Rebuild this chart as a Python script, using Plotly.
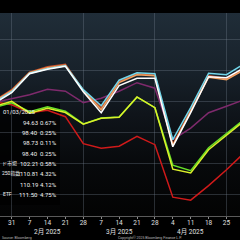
import base64
import plotly.graph_objects as go

# ---------------- data ----------------
dates = ["2025-01-24", "2025-01-31", "2025-02-07", "2025-02-14", "2025-02-21",
         "2025-02-28", "2025-03-07", "2025-03-14", "2025-03-21", "2025-03-28",
         "2025-04-04", "2025-04-11", "2025-04-18", "2025-04-25", "2025-05-02"]

brown  = [100.03, 101.88, 104.68, 105.56, 105.96, 101.79, 98.99, 103.16, 104.44, 104.20, 93.06, 98.51, 104.12, 103.64, 105.24]
orange = [99.95, 101.71, 104.60, 105.40, 105.80, 101.71, 98.67, 103.00, 104.28, 104.12, 92.90, 98.35, 103.88, 103.48, 105.08]
cyan   = [99.79, 101.55, 104.52, 105.24, 105.72, 101.88, 99.31, 103.40, 104.60, 104.44, 93.86, 98.99, 104.52, 104.28, 106.04]
white  = [99.63, 101.39, 104.44, 105.16, 105.64, 101.55, 98.19, 102.52, 103.72, 103.72, 92.74, 98.19, 103.96, 103.80, 105.40]
purple = [99.79, 100.43, 101.07, 101.96, 101.63, 99.79, 100.51, 101.63, 103.00, 102.12, 93.86, 95.71, 98.19, 99.23, 100.27]
green  = [98.99, 99.79, 98.35, 99.15, 98.43, 96.38, 97.34, 97.50, 100.67, 98.99, 89.78, 88.89, 92.58, 94.90, 97.15]
yellow = [99.15, 100.03, 98.11, 98.91, 98.22, 96.35, 97.31, 97.47, 100.71, 98.99, 89.13, 88.53, 92.26, 94.50, 96.91]
red    = [99.95, 99.47, 98.19, 98.59, 97.55, 93.22, 92.50, 92.82, 94.39, 93.06, 84.65, 84.17, 86.49, 89.05, 91.78]

tick_dates = ["2025-01-31", "2025-02-07", "2025-02-14", "2025-02-21", "2025-02-28",
              "2025-03-07", "2025-03-14", "2025-03-21", "2025-03-28", "2025-04-04",
              "2025-04-11", "2025-04-18", "2025-04-25"]
tick_text = ["31", "7", "14", "21", "28", "7", "14", "21", "28", "4", "11", "18", "25"]
grid_dates = ["2025-01-31", "2025-02-28", "2025-03-28", "2025-04-25"]
month_dates = ["2025-02-14", "2025-03-14", "2025-04-11"]
month_text = ["2月 2025", "3月 2025", "4月 2025"]

legend_date = "01/03/2025"
# only the visible (right-hand) part of each legend name
legend_names = ["", "", "", "", "ド市場", "250指数", "", "ETF"]
legend_values = ["94.63", "98.40", "98.73", "98.40", "102.21", "110.81", "110.19", "111.50"]
legend_pcts = ["0.67%", "0.25%", "0.11%", "0.25%", "0.58%", "4.32%", "4.12%", "4.75%"]

# ---------------- style ----------------
W, H = 240, 240
MT, MB = 13, 24
FONT = "Roboto, Liberation Sans, Noto Sans CJK JP, sans-serif"


def px(x):
    return x / W


def py(y):
    return (H - MB - y) / (H - MB - MT)


series = [
    (purple, "#7e2a6c"),
    (red, "#d01a1a"),
    (green, "#66e028"),
    (yellow, "#dcf02a"),
    (brown, "#c2502c"),
    (orange, "#f0a060"),
    (cyan, "#72d6ea"),
    (white, "#ffffff"),
]

fig = go.Figure()
for vals, col in series:
    fig.add_trace(go.Scatter(x=dates, y=vals, mode="lines",
                             line=dict(color=col, width=1.5),
                             showlegend=False, hoverinfo="skip"))

# invisible traces holding the gridline axis and the tick-mark axis
fig.add_trace(go.Scatter(x=grid_dates, y=[None] * len(grid_dates), xaxis="x2",
                         mode="lines", showlegend=False, hoverinfo="skip"))
fig.add_trace(go.Scatter(x=tick_dates, y=[None] * len(tick_dates), xaxis="x3",
                         mode="lines", showlegend=False, hoverinfo="skip"))

xrange = ["2025-01-26 10:10", "2025-04-30 06:45"]

svg = ("<svg xmlns='http://www.w3.org/2000/svg' width='10' height='100' viewBox='0 0 10 100' "
       "preserveAspectRatio='none'><defs><linearGradient id='g' x1='0' y1='0' x2='0' y2='1'>"
       "<stop offset='0' stop-color='#202d38'/><stop offset='0.28' stop-color='#18222b'/>"
       "<stop offset='0.5' stop-color='#0f141a'/><stop offset='0.75' stop-color='#07090b'/>"
       "<stop offset='1' stop-color='#030303'/></linearGradient></defs>"
       "<rect width='10' height='100' fill='url(#g)'/></svg>")
src = "data:image/svg+xml;base64," + base64.b64encode(svg.encode()).decode()

annotations = []
txt_font = dict(family=FONT, size=6, color="#f0f0f0")
name_font = dict(family=FONT, size=5, color="#f0f0f0")
annotations.append(dict(xref="paper", yref="paper", x=px(1), y=py(112), text=legend_date,
                        showarrow=False, xanchor="left", yanchor="middle", font=txt_font))
row_y = [122, 132.3, 142.7, 153, 163.3, 173.5, 184, 194]
name_x = [0, 0, 0, 0, 19, 0, 0, 14]
name_anchor = ["right", "right", "right", "right", "right", "left", "right", "right"]
for i in range(len(legend_values)):
    if legend_names[i]:
        annotations.append(dict(xref="paper", yref="paper", x=px(name_x[i]), y=py(row_y[i]),
                                text=legend_names[i], showarrow=False, xanchor=name_anchor[i],
                                yanchor="middle", font=name_font))
    annotations.append(dict(xref="paper", yref="paper", x=px(39.5), y=py(row_y[i]),
                            text=legend_values[i], showarrow=False, xanchor="right",
                            yanchor="middle", font=txt_font))
    annotations.append(dict(xref="paper", yref="paper", x=px(58.5), y=py(row_y[i]),
                            text=legend_pcts[i], showarrow=False, xanchor="right",
                            yanchor="middle", font=txt_font))
for d, t in zip(month_dates, month_text):
    annotations.append(dict(xref="x", yref="paper", x=d, y=py(231.5), text=t, showarrow=False,
                            xanchor="center", yanchor="middle",
                            font=dict(family=FONT, size=6.5, color="#e0e0e0")))
annotations.append(dict(xref="paper", yref="paper", x=px(150), y=py(237.5),
                        text="Copyright© 2025 Bloomberg Finance L.P.", showarrow=False,
                        xanchor="center", yanchor="middle",
                        font=dict(family=FONT, size=3.5, color="#bbbbbb")))
annotations.append(dict(xref="paper", yref="paper", x=px(0), y=py(237.5),
                        text="Source: Bloomberg", showarrow=False,
                        xanchor="left", yanchor="middle",
                        font=dict(family=FONT, size=3.5, color="#bbbbbb")))

grid_col = "rgba(120,135,150,0.32)"
fig.update_layout(
    width=W, height=H,
    margin=dict(l=0, r=0, t=MT, b=MB, pad=0),
    paper_bgcolor="#000000",
    plot_bgcolor="rgba(0,0,0,0)",
    images=[dict(source=src, xref="paper", yref="paper", x=0, y=1, sizex=1, sizey=1,
                 sizing="stretch", layer="below", xanchor="left", yanchor="top")],
    shapes=[dict(type="rect", xref="paper", yref="paper", x0=0, x1=px(60),
                 y0=py(205), y1=py(103), fillcolor="rgba(0,0,0,0.75)",
                 line=dict(width=0), layer="below")],
    xaxis=dict(type="date", range=xrange, tickvals=tick_dates, ticktext=tick_text,
               showgrid=False, zeroline=False, showline=True, linecolor="#5a5a5a",
               linewidth=1, ticks="",
               tickfont=dict(family=FONT, size=6.5, color="#e0e0e0")),
    xaxis2=dict(type="date", range=xrange, overlaying="x", anchor="y", tickvals=grid_dates,
                showgrid=True, gridcolor=grid_col, gridwidth=1,
                showticklabels=False, ticks="", showline=False, zeroline=False),
    xaxis3=dict(type="date", range=xrange, overlaying="x", anchor="y", tickvals=tick_dates,
                showgrid=False, showticklabels=False, ticks="outside", ticklen=2,
                tickcolor="#8a8a8a", tickwidth=1, showline=False, zeroline=False),
    yaxis=dict(range=[81.63, 114.17], tick0=85, dtick=5, showgrid=True,
               gridcolor=grid_col, gridwidth=1, showticklabels=False,
               ticks="", zeroline=False, showline=False),
    annotations=annotations,
    showlegend=False,
)

fig.write_html("out.html")
